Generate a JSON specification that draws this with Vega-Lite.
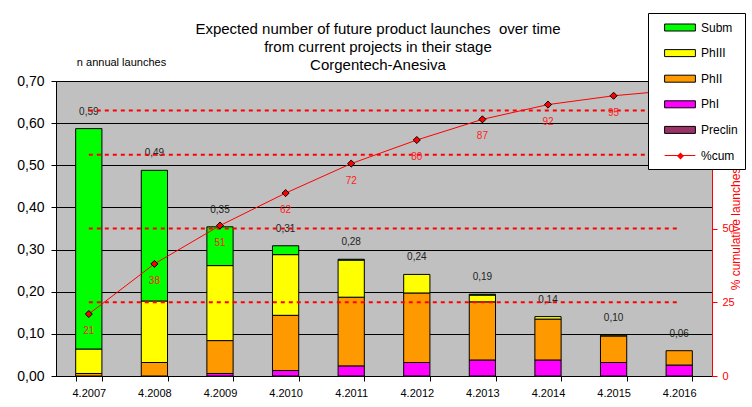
{
  "$schema": "https://vega.github.io/schema/vega-lite/v6.json",
  "width": 656,
  "height": 295,
  "autosize": {"type": "none"},
  "padding": {"left": 56, "top": 81, "right": 40, "bottom": 31},
  "background": "white",
  "config": {
    "locale": {"number": {"decimal": ",", "thousands": ".", "grouping": [3], "currency": ["", ""]}},
    "font": "Liberation Sans",
    "view": {"fill": "#C0C0C0", "stroke": "#808080", "strokeWidth": 1},
    "axis": {"labelFont": "Liberation Sans", "titleFont": "Liberation Sans", "labelColor": "#000", "titleFontWeight": "normal"}
  },
  "title": {
    "text": ["Expected number of future product launches\u00a0 over time", "from current projects in their stage", "Corgentech-Anesiva"],
    "fontSize": 15, "fontWeight": "normal", "font": "Liberation Sans", "color": "#000",
    "anchor": "middle", "frame": "group", "lineHeight": 18, "offset": 10, "dx": -6, "dy": 70
  },
  "datasets": {
    "stages": [
      {"year": "4.2007", "stage": "PhII", "value": 0.006},
      {"year": "4.2007", "stage": "PhIII", "value": 0.058},
      {"year": "4.2007", "stage": "Subm", "value": 0.523},
      {"year": "4.2008", "stage": "PhII", "value": 0.032},
      {"year": "4.2008", "stage": "PhIII", "value": 0.146},
      {"year": "4.2008", "stage": "Subm", "value": 0.310},
      {"year": "4.2009", "stage": "PhI", "value": 0.006},
      {"year": "4.2009", "stage": "PhII", "value": 0.078},
      {"year": "4.2009", "stage": "PhIII", "value": 0.178},
      {"year": "4.2009", "stage": "Subm", "value": 0.092},
      {"year": "4.2010", "stage": "PhI", "value": 0.013},
      {"year": "4.2010", "stage": "PhII", "value": 0.131},
      {"year": "4.2010", "stage": "PhIII", "value": 0.144},
      {"year": "4.2010", "stage": "Subm", "value": 0.021},
      {"year": "4.2011", "stage": "PhI", "value": 0.024},
      {"year": "4.2011", "stage": "PhII", "value": 0.163},
      {"year": "4.2011", "stage": "PhIII", "value": 0.088},
      {"year": "4.2011", "stage": "Subm", "value": 0.002},
      {"year": "4.2012", "stage": "PhI", "value": 0.032},
      {"year": "4.2012", "stage": "PhII", "value": 0.165},
      {"year": "4.2012", "stage": "PhIII", "value": 0.044},
      {"year": "4.2013", "stage": "PhI", "value": 0.038},
      {"year": "4.2013", "stage": "PhII", "value": 0.138},
      {"year": "4.2013", "stage": "PhIII", "value": 0.016},
      {"year": "4.2013", "stage": "Subm", "value": 0.002},
      {"year": "4.2014", "stage": "PhI", "value": 0.038},
      {"year": "4.2014", "stage": "PhII", "value": 0.097},
      {"year": "4.2014", "stage": "PhIII", "value": 0.006},
      {"year": "4.2015", "stage": "PhI", "value": 0.032},
      {"year": "4.2015", "stage": "PhII", "value": 0.063},
      {"year": "4.2015", "stage": "PhIII", "value": 0.002},
      {"year": "4.2016", "stage": "PhI", "value": 0.026},
      {"year": "4.2016", "stage": "PhII", "value": 0.034}
    ],
    "totals": [
      {"year": "4.2007", "total": 0.587, "cum": 21},
      {"year": "4.2008", "total": 0.488, "cum": 38},
      {"year": "4.2009", "total": 0.354, "cum": 51},
      {"year": "4.2010", "total": 0.309, "cum": 62},
      {"year": "4.2011", "total": 0.277, "cum": 72},
      {"year": "4.2012", "total": 0.241, "cum": 80},
      {"year": "4.2013", "total": 0.194, "cum": 87},
      {"year": "4.2014", "total": 0.141, "cum": 92},
      {"year": "4.2015", "total": 0.097, "cum": 95},
      {"year": "4.2016", "total": 0.060, "cum": 97}
    ],
    "refs": [
      {"year": "4.2007", "level": 25}, {"year": "4.2016", "level": 25},
      {"year": "4.2007", "level": 50}, {"year": "4.2016", "level": 50},
      {"year": "4.2007", "level": 75}, {"year": "4.2016", "level": 75},
      {"year": "4.2007", "level": 90}, {"year": "4.2016", "level": 90}
    ]
  },
  "layer": [
    {
      "layer": [
        {
          "data": {"name": "stages"},
          "transform": [{"calculate": "indexof(['Preclin','PhI','PhII','PhIII','Subm'], datum.stage)", "as": "ord"}],
          "mark": {"type": "bar", "stroke": "black", "strokeWidth": 1},
          "encoding": {
            "x": {
              "field": "year", "type": "ordinal", "title": null,
              "scale": {"paddingInner": 0.6, "paddingOuter": 0.3},
              "axis": {"tickBand": "extent", "tickColor": "#000", "domainColor": "#000", "tickSize": 5, "labelFontSize": 11, "labelAngle": 0, "labelPadding": 6, "labelColor": "#000", "grid": false}
            },
            "y": {
              "field": "value", "type": "quantitative", "stack": "zero",
              "scale": {"domain": [0, 0.7], "nice": false},
              "axis": {
                "values": [0, 0.1, 0.2, 0.3, 0.4, 0.5, 0.6, 0.7], "format": ".2f",
                "labelFontSize": 14, "labelColor": "#000", "tickColor": "#000", "domainColor": "#000", "tickSize": 5, "labelPadding": 7,
                "grid": true, "gridColor": "#000", "gridWidth": 1, "gridOpacity": 1,
                "title": "n annual launches", "titleAngle": 0, "titleX": 65, "titleY": -19, "titleAlign": "center", "titleBaseline": "middle", "titleFontSize": 11, "titleFontWeight": "normal", "titleColor": "#000"
              }
            },
            "fill": {
              "field": "stage", "type": "nominal",
              "scale": {"domain": ["Subm", "PhIII", "PhII", "PhI", "Preclin", "%cum"], "range": ["#00FF00", "#FFFF00", "#FF9900", "#FF00FF", "#993366", "red"]},
              "legend": {
                "orient": "none", "legendX": 592, "legendY": -68, "title": null, "padding": 7,
                "strokeColor": "black", "fillColor": "white",
                "symbolSize": 196, "symbolType": "M-2.2,-0.5H2.2V0.5H-2.2Z", "symbolStrokeColor": "black", "symbolStrokeWidth": 1,
                "symbolOffset": 17.5, "labelOffset": 13.5, "labelFontSize": 12, "labelFont": "Liberation Sans", "labelColor": "#000", "rowPadding": 11.6,
                "encode": {
                  "symbols": {
                    "update": {
                      "shape": [{"test": "datum.value === '%cum'", "value": "M-2.2,0H2.2"}, {"value": "M-2.2,-0.5H2.2V0.5H-2.2Z"}],
                      "stroke": [{"test": "datum.value === '%cum'", "value": "red"}, {"value": "black"}]
                    }
                  }
                }
              }
            },
            "order": {"field": "ord", "type": "quantitative", "sort": "ascending"}
          }
        },
        {
          "data": {"name": "totals"},
          "mark": {"type": "text", "fontSize": 10, "color": "#222", "dy": -17, "baseline": "middle", "font": "Liberation Sans"},
          "encoding": {
            "x": {"field": "year", "type": "ordinal", "title": null},
            "y": {"field": "total", "type": "quantitative"},
            "text": {"field": "total", "type": "quantitative", "format": ".2f"}
          }
        }
      ]
    },
    {
      "layer": [
        {
          "data": {"name": "refs"},
          "mark": {"type": "line", "color": "red", "strokeWidth": 2, "strokeDash": [4, 4]},
          "encoding": {
            "x": {"field": "year", "type": "ordinal", "title": null},
            "y": {
              "field": "level", "type": "quantitative",
              "scale": {"domain": [0, 100], "nice": false},
              "axis": {"orient": "right", "values": [0, 25, 50, 75, 100], "domainColor": "red", "tickColor": "red", "labelColor": "red", "labelFontSize": 11, "tickSize": 5, "labelPadding": 5, "grid": false,
                "title": "% cumulative launches", "titleColor": "red", "titleFontSize": 12, "titleAngle": -90, "titlePadding": 2, "titleFontWeight": "normal"}
            },
            "detail": {"field": "level", "type": "nominal"}
          }
        },
        {
          "data": {"name": "totals"},
          "mark": {"type": "line", "color": "red", "strokeWidth": 1},
          "encoding": {
            "x": {"field": "year", "type": "ordinal", "title": null},
            "y": {"field": "cum", "type": "quantitative"}
          }
        },
        {
          "data": {"name": "totals"},
          "mark": {"type": "point", "filled": true, "fill": "red", "stroke": "black", "strokeWidth": 1, "size": 50, "opacity": 1},
          "encoding": {
            "x": {"field": "year", "type": "ordinal", "title": null},
            "y": {"field": "cum", "type": "quantitative"},
            "shape": {
              "datum": "%cum",
              "scale": {"range": ["diamond"]},
              "legend": {"orient": "none", "legendX": 620, "legendY": 70.5, "title": null, "padding": 0, "symbolSize": 50, "symbolFillColor": "red", "symbolStrokeColor": "black", "symbolStrokeWidth": 1, "labelExpr": "''", "labelOpacity": 0, "labelFontSize": 7}
            }
          }
        },
        {
          "data": {"name": "totals"},
          "mark": {"type": "text", "fontSize": 10, "color": "#FF2020", "dy": 17, "baseline": "middle", "font": "Liberation Sans"},
          "encoding": {
            "x": {"field": "year", "type": "ordinal", "title": null},
            "y": {"field": "cum", "type": "quantitative"},
            "text": {"field": "cum", "type": "quantitative"}
          }
        }
      ]
    }
  ],
  "resolve": {"scale": {"y": "independent"}}
}
